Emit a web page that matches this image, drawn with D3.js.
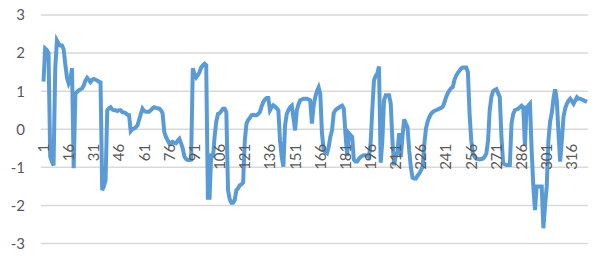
<!DOCTYPE html>
<html lang="en">
<head>
    <script src='https://d3js.org/d3.v7.min.js'></script>
    <style>
      body { margin: 0; background: #fff; }
      text { font-family: Lato, "Open Sans", sans-serif; fill: #595959; }
    </style>
</head>
<body>
<script>
// series values, one per category 1..325
var values = [
  1.25, 2.12, 2.08, 2.0, -0.72, -0.85, -0.95, 1.6, 2.33,
  2.25, 2.2, 2.2, 2.1, 1.7, 1.35, 1.2, 1.3, 1.6, -1.02,
  0.93, 0.98, 1.02, 1.05, 1.07, 1.15, 1.28, 1.35, 1.3, 1.24,
  1.3, 1.32, 1.3, 1.28, 1.25, 1.23, -1.6, -1.5, -1.34, 0.5,
  0.55, 0.58, 0.52, 0.5, 0.5, 0.48, 0.5, 0.5, 0.45, 0.44,
  0.42, 0.38, 0.37, -0.05, 0.0, 0.02, 0.05, 0.1, 0.25, 0.4,
  0.54, 0.48, 0.46, 0.46, 0.46, 0.5, 0.55, 0.58, 0.56, 0.55,
  0.54, 0.5, 0.42, -0.07, -0.2, -0.29, -0.37, -0.35, -0.33, -0.36,
  -0.37, -0.3, -0.25, -0.37, -0.5, -0.72, -0.78, -0.81, -0.81, -0.8,
  1.6, 1.45, 1.36, 1.42, 1.5, 1.62, 1.68, 1.72, 1.68, -1.8,
  -1.8, -0.64, -0.75, -0.2, 0.2, 0.4, 0.42, 0.48, 0.54, 0.54,
  0.45, -1.6, -1.84, -1.93, -1.93, -1.85, -1.6, -1.55, -1.47, -1.45,
  -1.4, -0.3, 0.15, 0.24, 0.3, 0.37, 0.38, 0.37, 0.37, 0.4,
  0.45, 0.6, 0.71, 0.78, 0.82, 0.82, 0.5, 0.58, 0.63, 0.6,
  0.55, 0.5, -0.3, -0.73, -0.98, 0.1, 0.4, 0.5, 0.58, 0.62,
  0.3, -0.03, 0.5, 0.65, 0.76, 0.78, 0.8, 0.8, 0.8, 0.78, 0.76,
  0.15, 0.6, 0.84, 1.0, 1.1, 0.93, -0.1, -0.55, -0.6, -0.63,
  -0.47, -0.2, -0.03, 0.42, 0.5, 0.54, 0.56, 0.6, 0.62, 0.54,
  -0.1, -0.7, -0.1, -0.15, -0.2, -0.8, -0.85, -0.85, -0.78, -0.73,
  -0.7, -0.68, -0.68, -0.7, -0.73, -0.37, 0.5, 1.28, 1.4, 1.46,
  1.65, -0.88, -0.3, 0.76, 0.89, 0.89, 0.89, 0.67, -0.29, -0.95,
  -0.7, -0.6, -0.1, -0.73, -0.2, 0.26, 0.15, 0.05, -0.55, -1.0,
  -1.27, -1.29, -1.29, -1.22, -1.16, -1.08, -0.99, -0.4, 0.02, 0.2,
  0.32, 0.4, 0.45, 0.48, 0.5, 0.52, 0.54, 0.56, 0.59, 0.7,
  0.84, 0.95, 1.02, 1.08, 1.11, 1.3, 1.41, 1.48, 1.54, 1.6,
  1.62, 1.62, 1.62, 1.5, 0.4, -0.3, -0.64, -0.72, -0.77, -0.78,
  -0.79, -0.78, -0.77, -0.72, -0.64, -0.3, 0.5, 0.85, 1.0, 1.03,
  1.05, 0.95, 0.85, -0.2, -0.9, -0.92, -0.94, -0.94, -0.94, 0.15,
  0.4, 0.5, 0.52, 0.54, 0.58, 0.62, 0.58, -0.44, 0.58, 0.62,
  0.67, -0.55, -1.5, -2.12, -1.5, -1.5, -1.5, -1.5, -2.6, -2.0,
  -1.5, -0.29, 0.2, 0.42, 0.8, 1.05, 0.76, -0.1, -0.85, -0.29,
  0.33, 0.55, 0.67, 0.75, 0.8, 0.74, 0.67, 0.75, 0.84, 0.8,
  0.8, 0.78, 0.76, 0.74, 0.72
];
var categories = values.map(function(d, i) { return i + 1; });
var yTicks = [-3, -2, -1, 0, 1, 2, 3];
var xTickLabels = [1, 16, 31, 46, 61, 76, 91, 106, 121, 136, 151, 166, 181, 196, 211, 226, 241, 256, 271, 286, 301, 316];

const width = 603, height = 261;
const plotLeft = 41, plotRight = 588, plotTop = 15, plotBottom = 243.5;

const svg = d3.select("body")
  .append("svg")
  .attr("width", width)
  .attr("height", height);

var x = d3.scalePoint()
  .domain(categories)
  .range([43.5, 587]);

var y = d3.scaleLinear()
  .domain([-3, 3])
  .range([plotBottom, plotTop]);

// gridlines
svg.append("g")
  .selectAll("line")
  .data(yTicks)
  .enter()
  .append("line")
  .attr("x1", plotLeft)
  .attr("x2", plotRight)
  .attr("y1", function(d) { return y(d); })
  .attr("y2", function(d) { return y(d); })
  .attr("stroke", "#d9d9d9")
  .attr("stroke-width", 1.5);

// y labels
svg.append("g")
  .selectAll("text")
  .data(yTicks)
  .enter()
  .append("text")
  .attr("x", 25)
  .attr("y", function(d) { return y(d); })
  .attr("dy", "0.36em")
  .attr("text-anchor", "end")
  .style("font-size", "15px")
  .text(function(d) { return d; });

// the line (sharp joins like the original)
var line = d3.line()
  .x(function(d, i) { return x(categories[i]); })
  .y(function(d) { return y(d); });

svg.append("path")
  .datum(values)
  .attr("fill", "none")
  .attr("stroke", "#5b9bd5")
  .attr("stroke-width", 4)
  .attr("stroke-linejoin", "miter")
  .attr("stroke-miterlimit", 4)
  .attr("d", line);

// category labels, rotated, hanging below the zero line
svg.append("g")
  .selectAll("text")
  .data(xTickLabels)
  .enter()
  .append("text")
  .attr("transform", function(d) {
    return "translate(" + x(d) + "," + (y(0) + 14.5) + ") rotate(-90)";
  })
  .attr("dy", "0.36em")
  .attr("text-anchor", "end")
  .style("font-size", "15px")
  .text(function(d) { return d; });
</script>
</body>
</html>
